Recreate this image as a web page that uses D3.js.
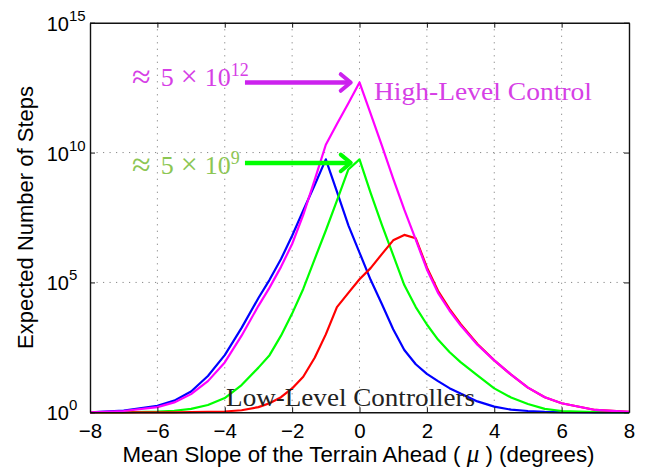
<!DOCTYPE html>
<meta charset="utf-8">
<head>
  <style>
    html, body { margin: 0; padding: 0; background: #fff; }
    text { font-family: 'Liberation Sans', Arial, sans-serif; }
    .serif { font-family: 'Liberation Serif', 'DejaVu Serif', serif; }
  </style>
  <script src="https://d3js.org/d3.v7.min.js"></script>
</head>
<body>
  <div id="chart"></div>
  <script>
    // slope values (degrees) where the curves were sampled
    const slopes = [-8, -7, -6, -5.5, -5, -4.5, -4, -3.5, -3, -2.67, -2.33, -2, -1.67, -1.33, -1, -0.67, -0.33,
      0, 0.33, 0.67, 1, 1.33, 1.67, 2, 2.33, 2.67, 3, 3.5, 4, 4.5, 5, 5.5, 6, 7, 8];

    // log10 of the expected number of steps
    const blueLog = [0, 0.07, 0.25, 0.45, 0.8, 1.4, 2.2, 3.25, 4.4, 5.1, 5.9, 6.8, 7.77, 8.75, 9.74, 8.5, 7.2,
      6.15, 5.1, 4.15, 3.2, 2.4, 1.85, 1.48, 1.2, 0.93, 0.72, 0.42, 0.22, 0.1, 0.05, 0.02, 0.01, 0, 0];
    const greenLog = [0, 0, 0.03, 0.06, 0.13, 0.28, 0.55, 1.05, 1.72, 2.2, 2.95, 3.8, 4.75, 5.9, 7.0, 8.15, 9.35,
      9.74, 8.45, 7.2, 6.05, 4.9, 4.05, 3.38, 2.8, 2.32, 1.93, 1.42, 0.92, 0.57, 0.32, 0.13, 0.05, 0.01, 0];
    const redLog = [0, 0, 0, 0, 0.01, 0.02, 0.03, 0.08, 0.2, 0.35, 0.58, 0.92, 1.37, 2.1, 3.0, 4.05, 4.6,
      5.12, 5.55, 6.1, 6.62, 6.83, 6.7, 5.58, 4.68, 3.98, 3.4, 2.63, 2.0, 1.45, 0.95, 0.58, 0.35, 0.09, 0.02];
    const magentaLog = [0, 0.05, 0.2, 0.38, 0.7, 1.2, 1.92, 2.95, 4.1, 4.8, 5.6, 6.48, 7.6, 8.95, 10.3, 11.1, 11.9,
      12.7, 11.5, 10.25, 9.0, 7.8, 6.65, 5.5, 4.6, 3.92, 3.35, 2.6, 2.0, 1.45, 0.95, 0.58, 0.35, 0.09, 0.02];

    const seriesNames = ["blue", "green", "red", "magenta"];
    const seriesColors = ["#0000ff", "#00ff00", "#ff0000", "#ff00ff"];
    const seriesLogs = [blueLog, greenLog, redLog, magentaLog];

    const xTicks = [-8, -6, -4, -2, 0, 2, 4, 6, 8];
    const yTicks = [1, 1e5, 1e10, 1e15];
    const yTickExp = ["0", "5", "10", "15"];

    // peak annotations
    const peakValues = [5e12, 4e9];
    const peakExp = ["12", "9"];
    const arrowColors = ["#cc22ee", "#00ff00"];
    const peakTextColors = ["#d63fe6", "#8cc653"];

    const margin = { top: 22.7, right: 16, bottom: 57.7, left: 90 },
      width = 645 - margin.left - margin.right,
      height = 470 - margin.top - margin.bottom;

    const svg = d3.select("#chart")
      .append("svg")
      .attr("width", 645)
      .attr("height", 470)
      .append("g")
      .attr("transform", `translate(${margin.left},${margin.top})`);

    const x = d3.scaleLinear().domain([-8, 8]).range([0, width]);
    const y = d3.scaleLog().domain([1, 1e15]).range([height, 0]);

    // dotted grid
    svg.append("g")
      .selectAll("line")
      .data(xTicks.slice(1, -1))
      .join("line")
      .attr("x1", d => x(d)).attr("x2", d => x(d))
      .attr("y1", 0).attr("y2", height)
      .attr("stroke", "#888").attr("stroke-width", 1)
      .attr("stroke-dasharray", "1.2,5.3");
    svg.append("g")
      .selectAll("line")
      .data(yTicks.slice(1, -1))
      .join("line")
      .attr("x1", 0).attr("x2", width)
      .attr("y1", d => y(d)).attr("y2", d => y(d))
      .attr("stroke", "#888").attr("stroke-width", 1)
      .attr("stroke-dasharray", "1.2,5.3");

    // curves
    const line = d3.line()
      .x(d => x(d.x))
      .y(d => y(d.v));

    seriesLogs.forEach(function (logs, i) {
      const pts = slopes.map((s, j) => ({ x: s, v: Math.pow(10, logs[j]) }));
      svg.append("path")
        .datum(pts)
        .attr("class", "curve " + seriesNames[i])
        .attr("fill", "none")
        .attr("stroke", seriesColors[i])
        .attr("stroke-width", 2.2)
        .attr("stroke-linejoin", "round")
        .attr("d", line);
    });

    // axes, ticks pointing inward on all four sides
    const axisStyle = function (g) {
      g.select(".domain").attr("stroke", "#111").attr("stroke-width", 1.4);
      g.selectAll(".tick line").attr("stroke", "#111").attr("stroke-width", 1);
    };

    const xAxis = svg.append("g")
      .attr("transform", `translate(0,${height})`)
      .call(d3.axisBottom(x).tickValues(xTicks).tickSizeInner(-5).tickSizeOuter(0).tickPadding(11))
      .call(axisStyle);
    xAxis.selectAll(".tick text")
      .attr("font-size", 20.5)
      .attr("fill", "#000")
      .attr("font-family", "'Liberation Sans', Arial, sans-serif");

    svg.append("g")
      .call(d3.axisTop(x).tickValues(xTicks).tickSizeInner(-5).tickSizeOuter(0).tickFormat(""))
      .call(axisStyle);

    svg.append("g")
      .call(d3.axisLeft(y).tickValues(yTicks).tickSizeInner(-5).tickSizeOuter(0).tickFormat(""))
      .call(axisStyle);

    svg.append("g")
      .attr("transform", `translate(${width},0)`)
      .call(d3.axisRight(y).tickValues(yTicks).tickSizeInner(-5).tickSizeOuter(0).tickFormat(""))
      .call(axisStyle);

    // y tick labels as 10 with a superscript exponent
    const yLab = svg.append("g")
      .selectAll("text")
      .data(yTicks)
      .join("text")
      .attr("x", -43.3)
      .attr("y", d => y(d) + 8)
      .attr("font-size", 20)
      .attr("fill", "#000");
    yLab.append("tspan").text("10");
    yLab.append("tspan")
      .attr("font-size", 15)
      .attr("dy", -10)
      .text((d, i) => yTickExp[i]);

    // axis titles
    const xTitle = svg.append("text")
      .attr("x", x(0) - 1)
      .attr("y", height + 49.5)
      .attr("text-anchor", "middle")
      .attr("font-size", 22.3)
      .attr("fill", "#000");
    xTitle.append("tspan").text("Mean Slope of the Terrain Ahead ( ");
    xTitle.append("tspan")
      .attr("class", "serif")
      .attr("font-style", "italic")
      .attr("font-size", 25)
      .text("μ");
    xTitle.append("tspan").text(" ) (degrees)");

    svg.append("text")
      .attr("transform", `translate(${-57},${height / 2}) rotate(-90)`)
      .attr("text-anchor", "middle")
      .attr("font-size", 22)
      .attr("fill", "#000")
      .text("Expected Number of Steps");

    // peak arrows
    peakValues.forEach(function (v, i) {
      const yy = y(v);
      const x0 = x(-3.4), x1 = x(-0.26);
      svg.append("line")
        .attr("x1", x0).attr("x2", x1 - 2)
        .attr("y1", yy).attr("y2", yy)
        .attr("stroke", arrowColors[i])
        .attr("stroke-width", 4.5);
      svg.append("path")
        .attr("d", `M${x1 - 10},${yy - 8.3}L${x1},${yy}L${x1 - 10},${yy + 8.3}`)
        .attr("fill", "none")
        .attr("stroke", arrowColors[i])
        .attr("stroke-width", 4)
        .attr("stroke-linecap", "round")
        .attr("stroke-linejoin", "round");

      const t = svg.append("text")
        .attr("class", "serif")
        .attr("x", x(-6.75))
        .attr("y", yy + 3.5 + (i === 1 ? 8 : 0))
        .attr("font-size", 26)
        .attr("fill", peakTextColors[i]);
      t.append("tspan").attr("font-size", 34).attr("dy", 2).text("≈");
      t.append("tspan").attr("dx", 10).attr("dy", -2).text("5");
      t.append("tspan").attr("dx", 7).attr("font-size", 30).text("×");
      t.append("tspan").attr("dx", 7).text("10");
      t.append("tspan")
        .attr("font-size", 18)
        .attr("dy", -10)
        .text(peakExp[i]);
    });

    // curve group labels
    svg.append("text")
      .attr("class", "serif")
      .attr("x", x(0.43))
      .attr("y", y(Math.pow(10, 12.02)))
      .attr("font-size", 25)
      .attr("textLength", 218)
      .attr("lengthAdjust", "spacingAndGlyphs")
      .attr("fill", "#d63fe6")
      .text("High-Level Control");

    svg.append("text")
      .attr("class", "serif")
      .attr("x", x(-3.96))
      .attr("y", y(Math.pow(10, 0.24)))
      .attr("font-size", 25)
      .attr("textLength", 249)
      .attr("lengthAdjust", "spacingAndGlyphs")
      .attr("fill", "#222")
      .text("Low-Level Controllers");
  </script>
</body>
